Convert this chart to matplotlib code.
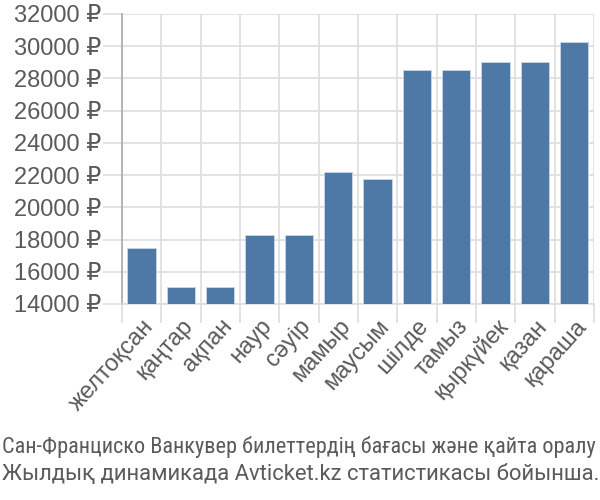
import matplotlib
matplotlib.use("Agg")
import matplotlib.pyplot as plt
from matplotlib.ticker import FixedLocator, NullFormatter

months = ["желтоқсан", "қаңтар", "ақпан", "наур", "сәуір", "мамыр", "маусым",
          "шілде", "тамыз", "қыркүйек", "қазан", "қараша"]
prices = [17480, 15050, 15050, 18290, 18290, 22180, 21740,
          28530, 28530, 29000, 29000, 30250]
yticks = [14000, 16000, 18000, 20000, 22000, 24000, 26000, 28000, 30000, 32000]
caption = ["Сан-Франциско Ванкувер билеттердің бағасы және қайта оралу",
           "Жылдық динамикада Avticket.kz статистикасы бойынша."]

plt.rcParams['font.family'] = ['Liberation Sans', 'DejaVu Sans']
text_color = '#5a5a5a'
grid_color = '#dddddd'

fig = plt.figure(figsize=(6, 5), dpi=100)
ax = fig.add_axes([0.203, 0.392, 0.787, 0.58])

x = list(range(len(months)))
ax.bar(x, prices, width=0.72, color='#4e79a7', edgecolor='#c9d6e6', linewidth=0.6, zorder=3)

ax.set_xlim(-0.5, len(months) - 0.5)
ax.set_ylim(14000, 32000)
ax.set_yticks(yticks)
ax.set_yticklabels([f"{v} ₽" for v in yticks])
ax.set_xticks(x)
ax.set_xticklabels(months, rotation=48, ha='right', rotation_mode='anchor')

ax.xaxis.set_minor_locator(FixedLocator([i - 0.5 for i in range(len(months) + 1)]))
ax.xaxis.set_minor_formatter(NullFormatter())
ax.grid(True, which='minor', axis='x', color=grid_color, linewidth=1.2, zorder=0)
ax.grid(True, which='major', axis='y', color=grid_color, linewidth=1.2, zorder=0)

ax.tick_params(axis='x', which='major', length=0, pad=8, labelsize=17, labelcolor=text_color)
ax.tick_params(axis='x', which='minor', length=14, color=grid_color, width=1.2)
ax.tick_params(axis='y', length=14, color=grid_color, width=1.2, pad=1, labelsize=17, labelcolor=text_color)

for s in ['top', 'right']:
    ax.spines[s].set_visible(False)
ax.spines['left'].set_color('#aaaaaa')
ax.spines['left'].set_linewidth(1.2)
ax.spines['bottom'].set_color(grid_color)
ax.spines['bottom'].set_linewidth(1.2)

fig.text(0.003, 0.106, caption[0], fontsize=16, color=text_color,
         family=['Roboto Condensed', 'Liberation Sans', 'DejaVu Sans'], va='center')
fig.text(0.003, 0.05, caption[1], fontsize=15.85, color=text_color,
         family=['Roboto', 'Liberation Sans', 'DejaVu Sans'], va='center')

fig.savefig("out.png", dpi=100)
